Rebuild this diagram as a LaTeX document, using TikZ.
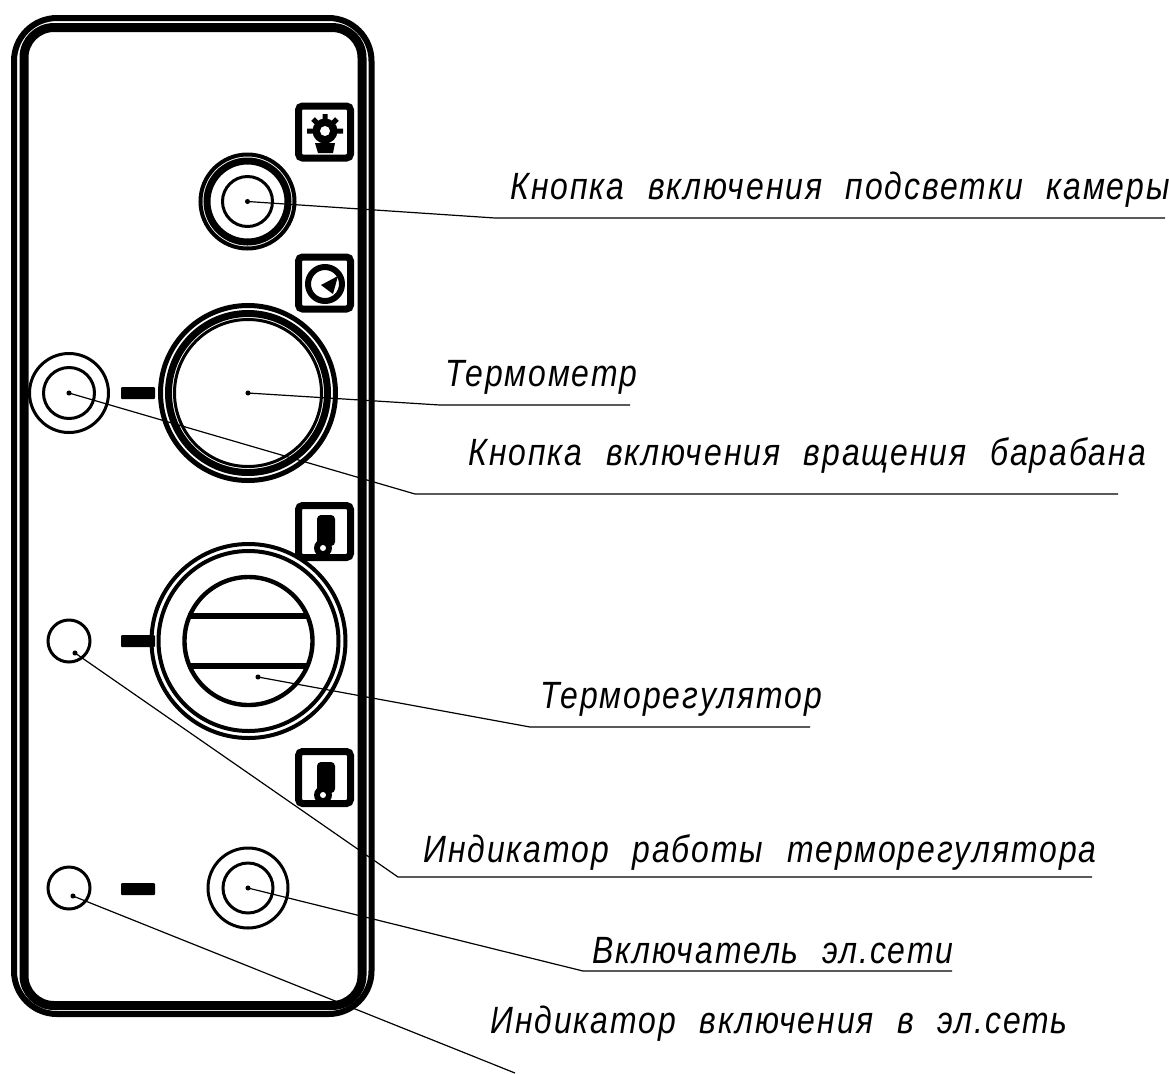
\documentclass[tikz,border=0pt]{standalone}
\usepackage{fontspec}
\usepackage{tikz}
\newfontfamily\gostfont[WordSpace=2.2,LetterSpace=5,FakeStretch=0.84]{Liberation Sans}
\begin{document}
\begin{tikzpicture}[x=0.5pt,y=-0.5pt]
\tikzset{
	panel line/.style = {line width = 3pt, rounded corners = 21.5pt},
	icon box/.style = {draw, line width = 3.5pt, rounded corners = 2pt, minimum size = 26pt, inner sep = 0},
	ring/.style = {circle, draw, line width = 1.5pt, inner sep = 0},
	solid dash/.style = {fill = black, rounded corners = 0.5pt, minimum width = 17pt, minimum height = 6pt, inner sep = 0},
	dot node/.style = {circle, fill = black, inner sep = 0.9pt},
	leader/.style = {line width = 0.6pt},
	bar/.style = {line width = 2.8pt},
	caption/.style = {anchor = base west, inner sep = 0, font = \gostfont\itshape\fontsize{19}{22}\selectfont},
}
\useasboundingbox (0,0) rectangle (1169,1073);

% panel
\draw[panel line] (14,18) rectangle (371.5,1014);
\draw[panel line, line width = 4.5pt, rounded corners = 15pt] (24,27.5) rectangle (362,1005.5);

% light button
\node(b1out)[ring, line width = 2pt, minimum size = 47pt] at (247.5,201.5){};
\node(b1mid)[ring, line width = 3.5pt, minimum size = 40.5pt] at (247.5,201.5){};
\node(b1in)[ring, minimum size = 25pt] at (247.5,201.5){};
\node(d1)[dot node] at (247.5,201.5){};

% thermometer
\node(t1out)[ring, line width = 2.5pt, minimum size = 87.5pt] at (248,393){};
\node(t1mid)[ring, line width = 3.5pt, minimum size = 79.5pt] at (248,393){};
\node(t1in)[ring, minimum size = 73.5pt] at (248,393){};
\node(d2)[dot node] at (248,393){};

% drum button
\node(b2out)[ring, minimum size = 39.5pt] at (69,393){};
\node(b2in)[ring, minimum size = 25.5pt] at (69,393){};
\node(d3)[dot node] at (69,393){};
\node(s1)[solid dash] at (138,393){};

% regulator
\node(r1out)[ring, line width = 2pt, minimum size = 97pt] at (248.5,641){};
\node(r1mid)[ring, line width = 2pt, minimum size = 90pt] at (248.5,641){};
\node(r1in)[ring, line width = 2.2pt, minimum size = 64pt] at (248.5,641){};
\coordinate (r1a) at (188,616);
\coordinate (r1b) at (308,616);
\coordinate (r1c) at (188,666);
\coordinate (r1d) at (308,666);
\draw[bar] (r1a) -- (r1b);
\draw[bar] (r1c) -- (r1d);
\node(d4)[dot node] at (258,677){};
\node(s2)[solid dash] at (138,641){};
\node(i1)[ring, minimum size = 21pt] at (69,641){};
\node(d5)[dot node] at (75,653){};

% mains
\node(i2)[ring, minimum size = 21pt] at (69,888){};
\node(d7)[dot node] at (73,896){};
\node(s3)[solid dash] at (138,889){};
\node(b3out)[ring, minimum size = 40pt] at (248,888){};
\node(b3in)[ring, minimum size = 25pt] at (248,888){};
\node(d6)[dot node] at (248,888){};

% icons
\node(ic1)[icon box] at (324.5,132){};
\fill (325,131) circle (12.5);
\draw[line width = 2.5pt] (307,131) -- (343,131) (325,131) -- (325,114) (325,131) -- (313,119) (325,131) -- (337,119);
\fill[white] (325,131) circle (5);
\fill (315,143) -- (335,143) -- (333,153) -- (318,153) -- cycle;
\node(ic2)[icon box] at (324.5,283){};
\draw[line width = 3pt] (325,284) circle (17);
\fill (321,285) -- (338,276) -- (333,294) -- cycle;
\node(ic3)[icon box] at (324.5,531.5){};
\fill[rounded corners = 2pt] (317,515) rectangle (335,546);
\fill (323,548) circle (9);
\fill[white] (323,548) circle (3);
\node(ic4)[icon box] at (324.5,777.5){};
\fill[rounded corners = 2pt] (317,762) rectangle (335,793);
\fill (323,795) circle (9);
\fill[white] (323,795) circle (3);

% leaders
\coordinate (k1) at (495,218);
\coordinate (e1) at (1165,218);
\coordinate (k2) at (440,405);
\coordinate (e2) at (630,405);
\coordinate (k3) at (415,494);
\coordinate (e3) at (1118,494);
\coordinate (k4) at (530,727);
\coordinate (e4) at (810,727);
\coordinate (k5) at (398,877);
\coordinate (e5) at (1092,877);
\coordinate (k6) at (583,971);
\coordinate (e6) at (952,971);
\coordinate (e7) at (515,1073);
\draw[leader] (d1.center) -- (k1) -- (e1);
\draw[leader] (d2.center) -- (k2) -- (e2);
\draw[leader] (d3.center) -- (k3) -- (e3);
\draw[leader] (d4.center) -- (k4) -- (e4);
\draw[leader] (d5.center) -- (k5) -- (e5);
\draw[leader] (d6.center) -- (k6) -- (e6);
\draw[leader] (d7.center) -- (e7);

% labels
\node(l1)[caption] at (510,199){Кнопка включения подсветки камеры};
\node(l2)[caption] at (445,386){Термометр};
\node(l3)[caption] at (468,465){Кнопка включения вращения барабана};
\node(l4)[caption] at (540,708){Терморегулятор};
\node(l5)[caption] at (423,862){Индикатор работы терморегулятора};
\node(l6)[caption] at (592,963){Включатель эл.сети};
\node(l7)[caption] at (490,1033){Индикатор включения в эл.сеть};
\end{tikzpicture}
\end{document}
